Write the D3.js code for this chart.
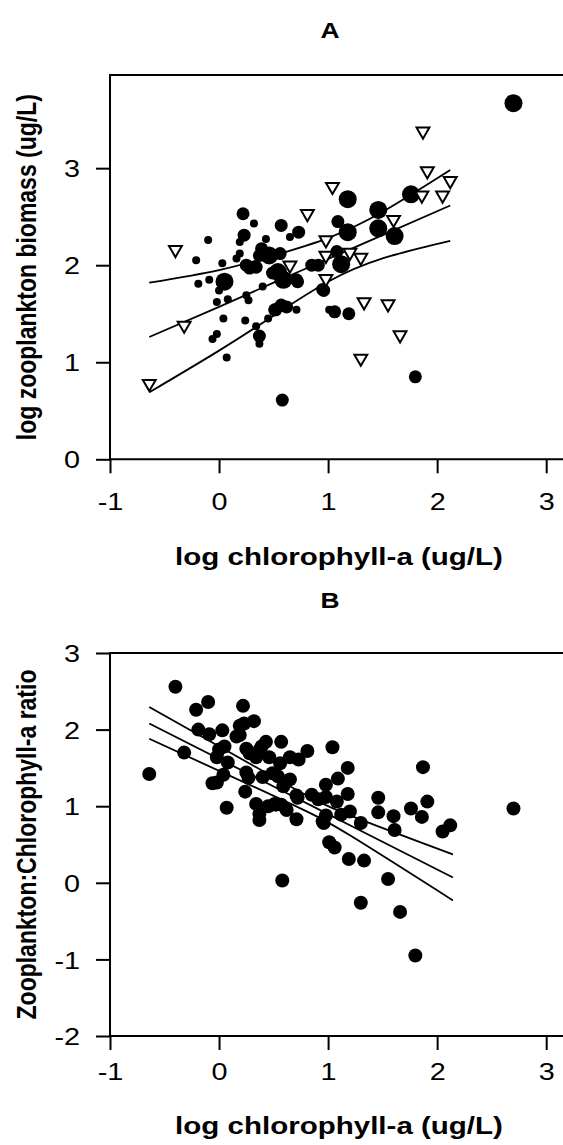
<!DOCTYPE html>
<html>
<head>
<meta charset="utf-8">
<script src="https://cdn.jsdelivr.net/npm/d3@7"></script>
<style>
  body { margin: 0; background: #fff; }
  svg { display: block; font-family: "Liberation Sans", Arial, sans-serif; }
</style>
</head>
<body>
<div id="chart"></div>
<script>
// log chlorophyll-a (ug/L), one value per lake
const chl = [
  -0.64,-0.40,-0.32,-0.21,-0.19,-0.09,-0.10,-0.06,-0.02,0.07,
  0.04,-0.02,0.08,0.00,0.05,0.03,0.19,0.16,0.22,0.32,
  0.23,0.19,0.25,0.34,0.37,0.46,0.56,0.43,0.39,0.57,
  0.73,0.65,0.24,0.27,0.25,0.34,0.37,0.37,0.40,0.45,
  0.52,0.57,0.62,0.71,0.49,0.59,0.72,0.65,0.85,0.91,
  0.98,0.96,1.01,0.81,1.04,0.98,0.98,1.09,1.18,1.18,
  1.08,1.12,1.20,1.30,0.95,1.06,1.19,1.33,1.55,1.66,
  1.30,1.80,0.58,1.46,1.46,1.61,1.60,1.76,1.86,2.05,
  1.91,2.12,1.87,2.70,0.28,0.54,0.51,0.71
];
// log zooplankton biomass (ug/L)
const zoop = [
  0.78,2.16,1.38,2.05,1.81,1.85,2.26,1.24,1.29,1.05,
  1.45,1.62,1.65,1.74,1.83,2.02,2.12,2.07,2.53,2.43,
  2.31,2.24,2.00,1.98,2.10,2.10,2.12,2.27,2.17,2.41,
  2.34,2.29,1.43,1.64,1.69,1.37,1.27,1.19,1.78,1.45,
  1.54,1.59,1.57,1.54,1.92,1.85,1.83,2.00,2.00,2.00,
  1.86,1.74,1.54,2.53,2.81,2.26,2.10,2.45,2.68,2.34,
  2.14,2.01,2.13,2.08,1.75,1.52,1.50,1.62,1.60,1.28,
  1.04,0.85,0.61,2.57,2.38,2.30,2.47,2.73,2.72,2.72,
  2.97,2.87,3.38,3.67,1.97,1.93,1.54,1.85
];
// marker class: s/m/l = small/medium/large filled dot, t = open triangle
const grp = [
  "t","t","t","s","s","s","s","s","s","s",
  "s","s","s","s","l","s","s","s","m","s",
  "m","s","m","m","m","l","m","s","m","m",
  "m","s","s","s","s","s","m","s","s","s",
  "m","m","m","s","m","l","m","t","m","m",
  "t","m","s","t","t","t","t","m","l","l",
  "m","l","t","t","m","m","m","t","t","t",
  "t","m","m","l","l","l","t","l","t","t",
  "t","t","t","l","m","l","m","m"
];
// log zooplankton:chlorophyll-a ratio
const ratio = [
  1.42,2.56,1.70,2.26,2.00,1.94,2.36,1.30,1.31,0.98,
  1.41,1.64,1.57,1.74,1.78,1.99,1.93,1.91,2.31,2.11,
  2.08,2.05,1.75,1.64,1.73,1.64,1.56,1.84,1.78,1.84,
  1.61,1.64,1.19,1.37,1.44,1.03,0.90,0.82,1.38,1.00,
  1.02,1.02,0.95,0.83,1.43,1.26,1.11,1.35,1.15,1.09,
  0.88,0.78,0.53,1.72,1.77,1.28,1.12,1.36,1.50,1.16,
  1.06,0.89,0.93,0.78,0.80,0.46,0.31,0.29,0.05,-0.38,
  -0.26,-0.95,0.03,1.11,0.92,0.69,0.87,0.97,0.86,0.67,
  1.06,0.75,1.51,0.97,1.69,1.39,1.03,1.14
];

// fitted line and its band
const fitXA = [-0.64, 0, 0.5, 1.0, 1.5, 2.12];
const fitA_mid = [1.26, 1.57, 1.82, 2.065, 2.31, 2.615];
const fitA_up  = [1.82, 1.95, 2.10, 2.28, 2.55, 2.98];
const fitA_lo  = [0.69, 1.12, 1.48, 1.83, 2.07, 2.25];

const fitXB = [-0.64, 0.6, 1.2, 2.145];
const fitB_mid = [2.08, 1.185, 0.752, 0.07];
const fitB_up  = [2.295, 1.30, 0.88, 0.37];
const fitB_lo  = [1.88, 1.07, 0.62, -0.23];

const xTicks = [-1, 0, 1, 2, 3];
const yTicksA = [0, 1, 2, 3];
const yTicksB = [-2, -1, 0, 1, 2, 3];

const width = 563, height = 1145;
const svg = d3.select("#chart").append("svg")
  .attr("width", width).attr("height", height);

const left = 110, right = 568;
const stretch = 1.2;   // the printed figure is wider than tall

function panel(opt){
  const x = d3.scaleLinear().domain([-1, 3.2]).range([left, right]);
  const y = d3.scaleLinear().domain(opt.ydom).range([opt.bottom, opt.top]);
  const g = svg.append("g");

  // frame (right side falls outside the page)
  g.append("path")
    .attr("d", `M${right},${opt.top}H${left}V${opt.bottom}H${right}`)
    .attr("fill", "none").attr("stroke", "#000").attr("stroke-width", 2);

  const xAxis = d3.axisBottom(x).tickValues(xTicks).tickSize(14)
    .tickFormat(d => String(d));
  g.append("g").attr("transform", `translate(0,${opt.bottom})`).call(xAxis)
    .call(a => a.select(".domain").remove())
    .call(a => a.selectAll("line").attr("stroke-width", 2))
    .call(a => a.selectAll("text")
      .attr("fill", "#000").attr("font-size", 24)
      .attr("font-family", "Liberation Sans, Arial, sans-serif")
      .attr("y", opt.xlabY).attr("dy", 0)
      .attr("transform", `scale(${stretch},1)`));

  const yAxis = d3.axisLeft(y).tickValues(opt.yticks).tickSize(14)
    .tickFormat(d => String(d));
  g.append("g").attr("transform", `translate(${left},0)`).call(yAxis)
    .call(a => a.select(".domain").remove())
    .call(a => a.selectAll("line").attr("stroke-width", 2))
    .call(a => a.selectAll("text")
      .attr("fill", "#000").attr("font-size", 24)
      .attr("font-family", "Liberation Sans, Arial, sans-serif")
      .attr("x", -25).attr("dy", "0.36em")
      .attr("transform", `scale(${stretch},1)`));

  g.append("text")
    .attr("transform", `translate(330,${opt.top + opt.letterDy}) scale(${stretch},1)`)
    .attr("text-anchor", "middle").attr("font-weight", "bold").attr("font-size", 22)
    .text(opt.letter);

  g.append("text")
    .attr("transform", `translate(339,${opt.xtitleY}) scale(1.23,1)`)
    .attr("text-anchor", "middle").attr("font-weight", "bold").attr("font-size", 24)
    .text("log chlorophyll-a (ug/L)");

  g.append("text")
    .attr("transform", `translate(36,${(opt.top + opt.bottom) / 2}) scale(${stretch},1) rotate(-90)`)
    .attr("text-anchor", "middle").attr("font-weight", "bold").attr("font-size", 23)
    .text(opt.ytitle);

  // fitted lines
  const line = d3.line().x(d => x(d[0])).y(d => y(d[1])).curve(d3.curveNatural);
  opt.fits.forEach(f => {
    g.append("path").datum(opt.fitX.map((v, i) => [v, f[i]]))
      .attr("d", line).attr("fill", "none")
      .attr("stroke", "#000").attr("stroke-width", 1.8);
  });

  return {g, x, y};
}

// panel A
const A = panel({
  letter: "A", top: 75, bottom: 459.3, ydom: [0, 3.96], yticks: yTicksA,
  letterDy: -37, xlabY: 51, xtitleY: 565,
  ytitle: "log zooplankton biomass (ug/L)",
  fitX: fitXA, fits: [fitA_up, fitA_mid, fitA_lo]
});

const radius = {s: 4, m: 6.5, l: 9};
const idx = d3.range(chl.length);

A.g.selectAll(".dot").data(idx.filter(i => grp[i] !== "t"))
  .enter().append("circle")
  .attr("cx", i => A.x(chl[i])).attr("cy", i => A.y(zoop[i]))
  .attr("r", i => radius[grp[i]]).attr("fill", "#000");

const tri = d3.symbol().type(d3.symbolTriangle).size(72);
A.g.selectAll(".tri").data(idx.filter(i => grp[i] === "t"))
  .enter().append("path")
  .attr("d", tri)
  .attr("transform", i => `translate(${A.x(chl[i])},${A.y(zoop[i])}) rotate(180)`)
  .attr("fill", "#fff").attr("stroke", "#000").attr("stroke-width", 2);

// panel B
const B = panel({
  letter: "B", top: 653, bottom: 1036, ydom: [-2, 3], yticks: yTicksB,
  letterDy: -45, xlabY: 44, xtitleY: 1134,
  ytitle: "Zooplankton:Chlorophyll-a ratio",
  fitX: fitXB, fits: [fitB_up, fitB_mid, fitB_lo]
});

B.g.selectAll(".dot").data(idx)
  .enter().append("circle")
  .attr("cx", i => B.x(chl[i])).attr("cy", i => B.y(ratio[i]))
  .attr("r", 7).attr("fill", "#000");
</script>
</body>
</html>
